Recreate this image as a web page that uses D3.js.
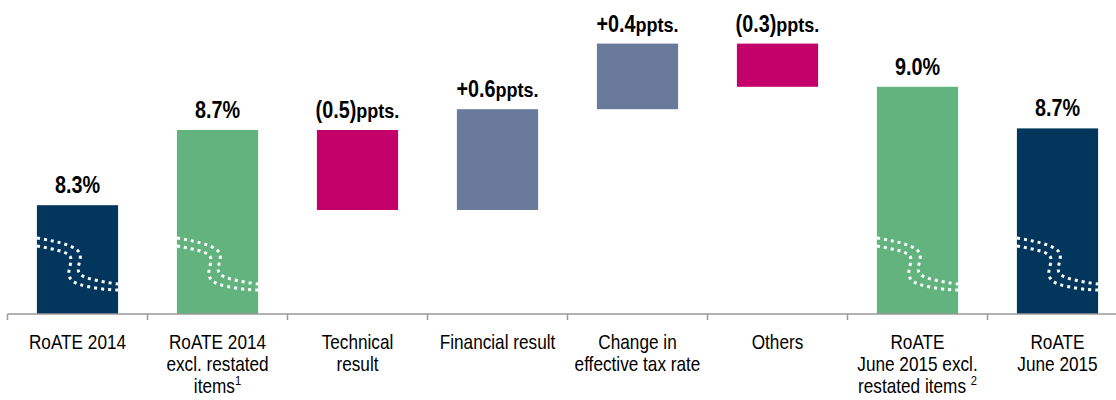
<!DOCTYPE html>
<html>
<head>
<meta charset="utf-8">
<script src="https://cdnjs.cloudflare.com/ajax/libs/d3/7.8.5/d3.min.js"></script>
<style>
  body { margin: 0; background: #fff; }
  text { font-family: "Liberation Sans Narrow", "Arial Narrow", "Liberation Sans", Arial, sans-serif; }
</style>
</head>
<body>
<script>
// categories, each label split into lines; second item of a line is a superscript
var categories = ["RoATE 2014", "RoATE 2014 excl.", "Technical result", "Financial result",
                  "Change in tax rate", "Others", "RoATE June 2015 excl.", "RoATE June 2015"];
var categoryLines = [
  [["RoATE 2014"]],
  [["RoATE 2014"], ["excl. restated"], ["items", "1"]],
  [["Technical"], ["result"]],
  [["Financial result"]],
  [["Change in"], ["effective tax rate"]],
  [["Others"]],
  [["RoATE"], ["June 2015 excl."], ["restated items ", "2"]],
  [["RoATE"], ["June 2015"]]
];
// bar kind: total / restated total / negative step / positive step
var kinds = ["total", "restated", "neg", "pos", "pos", "neg", "restated", "total"];
var barFrom = [7.55, 7.55, 8.70, 8.20, 8.83, 9.24, 7.55, 7.55];
var barTo   = [8.23, 8.70, 8.20, 8.83, 9.24, 8.97, 8.97, 8.71];
var valueLabels = ["8.3%", "8.7%", "(0.5)", "+0.6", "+0.4", "(0.3)", "9.0%", "8.7%"];
var unitLabels  = ["", "", "ppts.", "ppts.", "ppts.", "ppts.", "", ""];

var colors = { total: "#03365c", restated: "#62b37d", neg: "#c4006a", pos: "#6a7a9b" };

var width = 1116, height = 400;
var baseY = 314;

var svg = d3.select('body').append('svg')
  .attr('width', width)
  .attr('height', height);

var x = d3.scaleBand()
  .domain(categories)
  .range([7.5, 1127.5])
  .paddingInner(0.42)
  .paddingOuter(0.21);

var y = d3.scaleLinear()
  .domain([7.55, 9.5])
  .range([baseY, 2]);

var data = categories.map(function(c, i){
  return { cat: c, kind: kinds[i], from: barFrom[i], to: barTo[i],
           label: valueLabels[i], unit: unitLabels[i], lines: categoryLines[i] };
});

// bars
svg.selectAll('.bar')
  .data(data)
  .enter().append('rect')
  .attr('class', 'bar')
  .attr('x', function(d){ return x(d.cat); })
  .attr('width', x.bandwidth())
  .attr('y', function(d){ return y(Math.max(d.from, d.to)); })
  .attr('height', function(d){ return Math.abs(y(d.from) - y(d.to)); })
  .style('fill', function(d){ return colors[d.kind]; });

// axis break marks on the total bars
var breakTop = baseY - 76;
var totals = data.filter(function(d){ return d.kind === 'total' || d.kind === 'restated'; });
var w = x.bandwidth();
function breakPaths(d){
  var x0 = x(d.cat), y0 = breakTop;
  function p(u, v){ return (x0 + u * w) + ',' + (y0 + v); }
  var a = 'M' + p(0, 0) + ' C' + p(0.28, 4) + ' ' + p(0.5, 8) + ' ' + p(0.53, 16) +
          ' C' + p(0.56, 24) + ' ' + p(0.43, 34) + ' ' + p(0.59, 39) +
          ' C' + p(0.72, 43) + ' ' + p(0.9, 45) + ' ' + p(1, 46);
  var b = 'M' + p(0, 8) + ' C' + p(0.26, 12) + ' ' + p(0.41, 14) + ' ' + p(0.42, 21) +
          ' C' + p(0.43, 28) + ' ' + p(0.31, 40) + ' ' + p(0.51, 46) +
          ' C' + p(0.65, 50) + ' ' + p(0.88, 52) + ' ' + p(1, 52);
  return [a, b];
}
svg.selectAll('.brk')
  .data(totals.reduce(function(acc, d){ return acc.concat(breakPaths(d)); }, []))
  .enter().append('path')
  .attr('d', function(d){ return d; })
  .style('fill', 'none')
  .style('stroke', '#fff')
  .style('stroke-width', 3)
  .style('stroke-dasharray', '3,4');

// axis
var axis = svg.append('g');
axis.append('line')
  .attr('x1', x.range()[0]).attr('x2', width)
  .attr('y1', baseY).attr('y2', baseY)
  .style('stroke', '#999').style('stroke-width', 1.5);
axis.selectAll('.tick')
  .data(categories)
  .enter().append('line')
  .attr('x1', function(d){ return x(d) - x.step() * x.paddingOuter(); })
  .attr('x2', function(d){ return x(d) - x.step() * x.paddingOuter(); })
  .attr('y1', baseY).attr('y2', baseY + 6)
  .style('stroke', '#999').style('stroke-width', 1.5);

// value labels (condensed like Arial Narrow)
var vl = svg.selectAll('.val')
  .data(data)
  .enter().append('text')
  .attr('transform', function(d){
    return 'translate(' + (x(d.cat) + w / 2) + ',' + (y(Math.max(d.from, d.to)) - 12) + ') scale(0.86,1)';
  })
  .attr('text-anchor', 'middle')
  .style('font-weight', 'bold')
  .style('fill', '#000');
vl.append('tspan').style('font-size', '23px').text(function(d){ return d.label; });
vl.append('tspan').style('font-size', '21px').text(function(d){ return d.unit; });

// category labels
var cl = svg.selectAll('.cat')
  .data(data)
  .enter().append('text')
  .attr('transform', function(d){ return 'translate(' + (x(d.cat) + w / 2) + ',0) scale(0.86,1)'; })
  .attr('text-anchor', 'middle')
  .style('font-size', '20px')
  .style('fill', '#000');
cl.each(function(d){
  var t = d3.select(this);
  d.lines.forEach(function(line, i){
    t.append('tspan')
      .attr('x', 0)
      .attr('y', 349 + i * 22)
      .text(line[0]);
    if (line[1]) {
      t.append('tspan')
        .attr('dy', -8)
        .style('font-size', '13px')
        .text(line[1]);
    }
  });
});
</script>
</body>
</html>
